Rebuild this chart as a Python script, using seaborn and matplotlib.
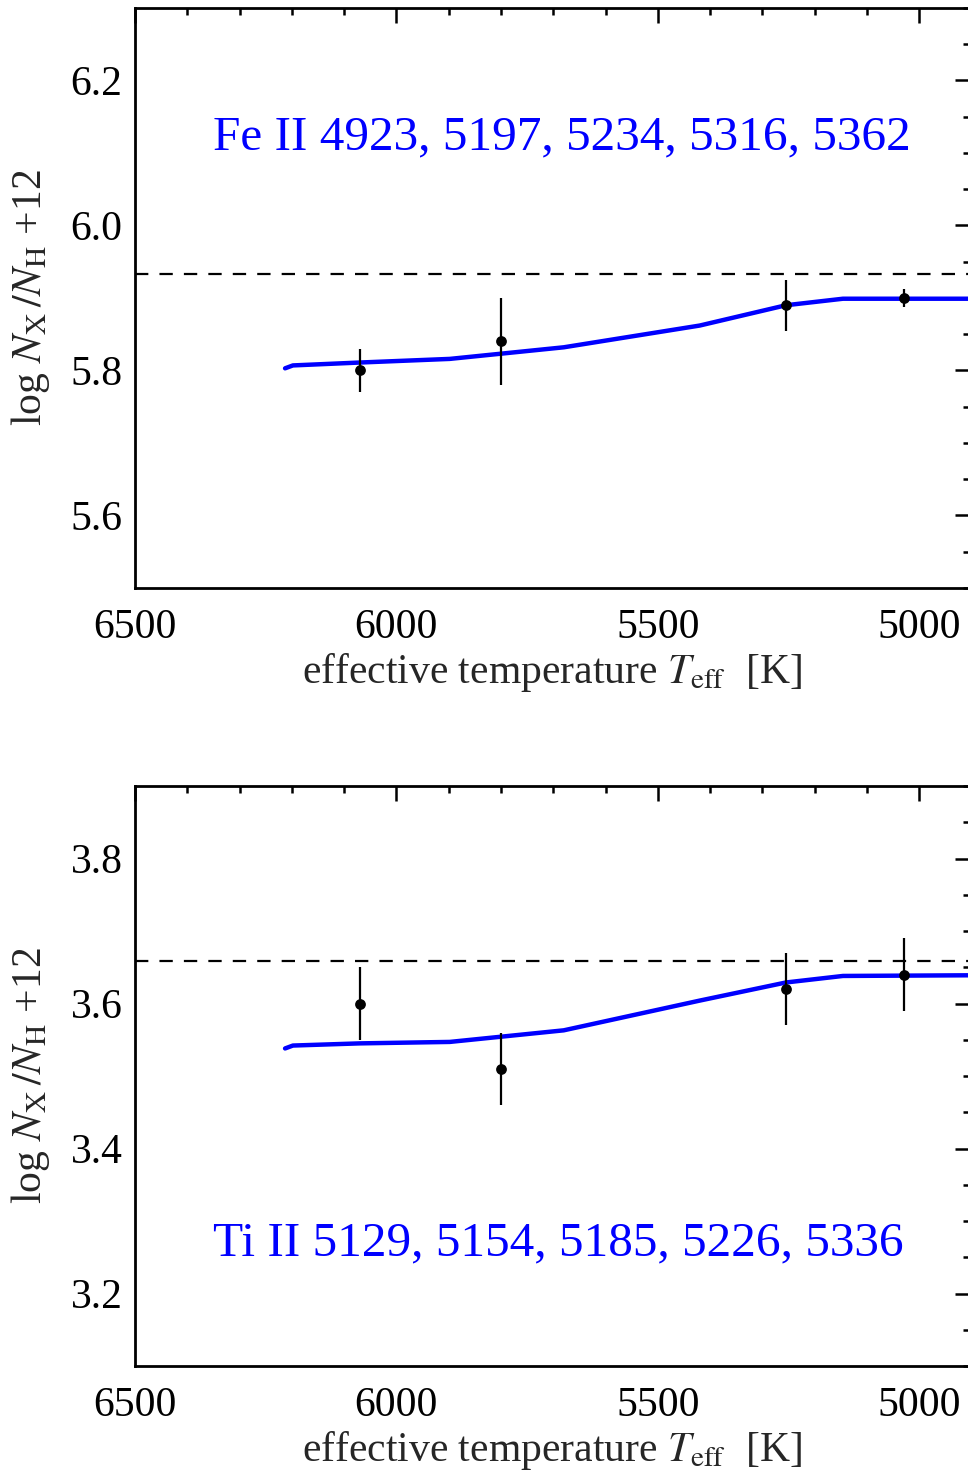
import numpy as np
import pandas as pd
import matplotlib
matplotlib.use("Agg")
import matplotlib.pyplot as plt
from matplotlib.ticker import MultipleLocator
import seaborn as sns

# ---- data ----
teff_obs = [6070, 5800, 5255, 5030]
fe_obs = [5.80, 5.84, 5.89, 5.90]
fe_err = [0.03, 0.06, 0.035, 0.013]
ti_obs = [3.60, 3.51, 3.62, 3.64]
ti_err = [0.05, 0.05, 0.05, 0.05]

teff_model = [6213, 6198, 6070, 5898, 5680, 5420, 5255, 5146, 4880]
fe_model = [5.803, 5.807, 5.811, 5.816, 5.832, 5.862, 5.890, 5.899, 5.899]
ti_model = [3.538, 3.542, 3.545, 3.547, 3.563, 3.604, 3.629, 3.638, 3.639]

fe_ref = 5.933
ti_ref = 3.658

fe_label = "Fe II 4923, 5197, 5234, 5316, 5362"
ti_label = "Ti II 5129, 5154, 5185, 5226, 5336"
xticks = [6500, 6000, 5500, 5000]

sns.set_style("white")
plt.rcParams['font.family'] = ['Liberation Serif', 'DejaVu Serif']
plt.rcParams['mathtext.fontset'] = 'stix'

W, H = 968, 1473
fig = plt.figure(figsize=(W / 100, H / 100), dpi=100)

left = 135 / W
width = (970 - 135) / W
h = (588 - 8) / H
axes_specs = [
    (1 - 588 / H, fe_model, fe_obs, fe_err, fe_ref, fe_label, (5.5, 6.3), [5.6, 5.8, 6.0, 6.2], 137),
    (1 - 1366 / H, ti_model, ti_obs, ti_err, ti_ref, ti_label, (3.1, 3.9), [3.2, 3.4, 3.6, 3.8], 1243),
]

for bottom, model, obs, err, ref, label, ylim, yticks, label_y in axes_specs:
    ax = fig.add_axes([left, bottom, width, h])
    ax.set_xlim(6500, 4903)
    ax.set_ylim(*ylim)
    ax.axhline(ref, color='black', lw=1.6, ls=(0, (6, 5)), zorder=1)
    dfm = pd.DataFrame({'teff': teff_model, 'val': model})
    sns.lineplot(data=dfm, x='teff', y='val', ax=ax, color='#0000ff', lw=3.2, sort=False,
                 estimator=None, zorder=2)
    ax.errorbar(teff_obs, obs, yerr=err, fmt='none', ecolor='black', elinewidth=1.6,
                capsize=0, zorder=3)
    dfo = pd.DataFrame({'teff': teff_obs, 'val': obs})
    sns.scatterplot(data=dfo, x='teff', y='val', ax=ax, color='black', s=60,
                    edgecolor='black', linewidth=0, zorder=4)
    ax.set_xticks(xticks)
    ax.set_yticks(yticks)
    ax.set_yticklabels([f"{v:.1f}" for v in yticks])
    ax.xaxis.set_minor_locator(MultipleLocator(100))
    ax.yaxis.set_minor_locator(MultipleLocator(0.05))
    ax.tick_params(which='both', direction='in', top=True, right=True, width=1.8,
                   labelsize=30, color='black', labelcolor='black')
    ax.tick_params(which='major', length=11)
    ax.tick_params(which='minor', length=5)
    ax.tick_params(axis='x', pad=15)
    ax.tick_params(axis='y', pad=9)
    for s in ax.spines.values():
        s.set_linewidth(2.0)
        s.set_color('black')
    ax.set_xlabel(r"effective temperature $T_{\rm eff}$  [K]", fontsize=30, labelpad=3)
    ax.set_ylabel(r"log $N_{\rm X}\,/N_{\rm H}$ +12", fontsize=30, labelpad=13)
    fig.text(213 / W, 1 - label_y / H, label, color='#0000ff', fontsize=35.5,
             ha='left', va='center')

fig.savefig("out.png", dpi=100)
